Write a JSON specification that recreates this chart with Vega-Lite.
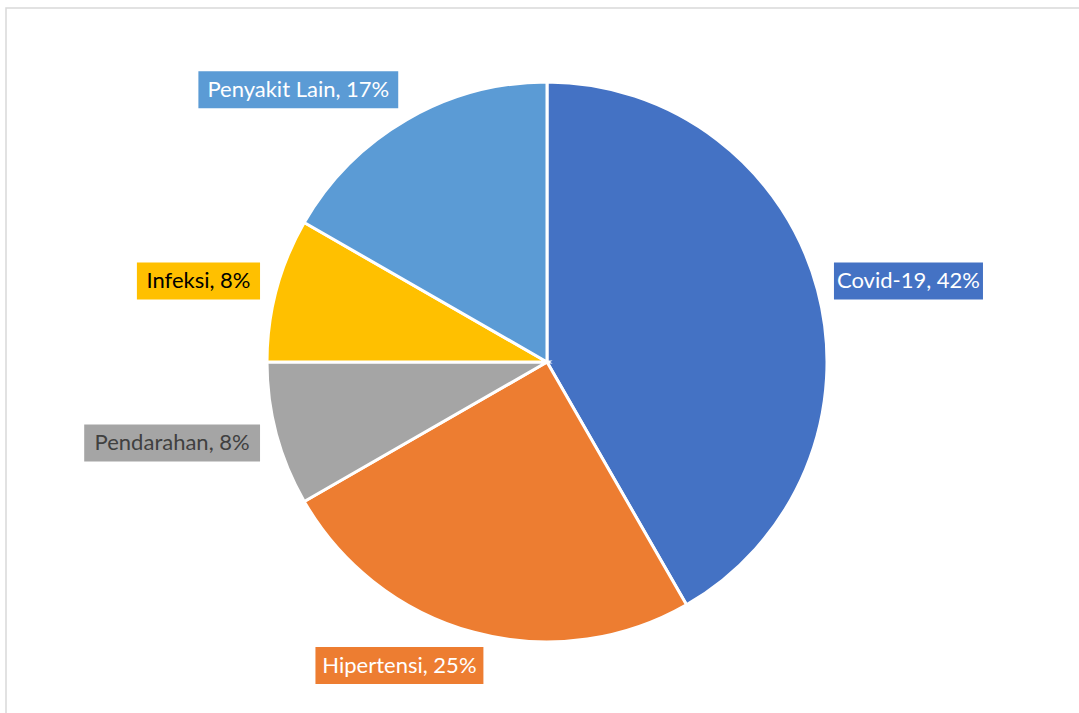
{
  "$schema": "https://vega.github.io/schema/vega-lite/v6.json",
  "width": 1079,
  "height": 713,
  "autosize": {"type": "fit", "contains": "padding"},
  "padding": {"left": 6, "top": 8, "right": -3, "bottom": -3},
  "background": "white",
  "config": {"view": {"stroke": "#d9d9d9", "strokeWidth": 1.5}},
  "data": {
    "values": [
      {"kategori": "Covid-19", "persen": 41.7, "label": "Covid-19, 42%"},
      {"kategori": "Hipertensi", "persen": 25, "label": "Hipertensi, 25%"},
      {"kategori": "Pendarahan", "persen": 8.3, "label": "Pendarahan, 8%"},
      {"kategori": "Infeksi", "persen": 8.3, "label": "Infeksi, 8%"},
      {"kategori": "Penyakit Lain", "persen": 16.7, "label": "Penyakit Lain, 17%"}
    ]
  },
  "transform": [
    {"window": [{"op": "row_number", "as": "urutan"}]},
    {"joinaggregate": [{"op": "sum", "field": "persen", "as": "total"}]},
    {"window": [{"op": "sum", "field": "persen", "as": "kumulatif"}], "sort": [{"field": "urutan"}], "frame": [null, 0]},
    {"calculate": "2 * PI * (datum.kumulatif - datum.persen / 2) / datum.total", "as": "sudut"},
    {"calculate": "sin(datum.sudut)", "as": "ux"},
    {"calculate": "-cos(datum.sudut)", "as": "uy"},
    {"calculate": "length(replace(datum.label, regexp('[^iltfrjI1, -]', 'g'), ''))", "as": "sempit"},
    {"calculate": "12.94 * length(datum.label) - 6.94 * datum.sempit + 15.5", "as": "lebar"},
    {"calculate": "297 * datum.ux + datum.lebar / 2 * clamp(3.2 * datum.ux, -1, 1)", "as": "cx"},
    {"calculate": "(296 + 18.5) * datum.uy", "as": "cy"},
    {"calculate": "datum.cx - datum.lebar / 2", "as": "kiri"},
    {"calculate": "datum.cx + datum.lebar / 2", "as": "kanan"},
    {"calculate": "datum.cy - 18.5", "as": "atas"},
    {"calculate": "datum.cy + 18.5", "as": "bawah"}
  ],
  "layer": [
    {
      "mark": {"type": "arc", "outerRadius": 280, "stroke": "white", "strokeWidth": 3},
      "encoding": {
        "theta": {"field": "persen", "type": "quantitative", "stack": true},
        "order": {"field": "urutan", "type": "quantitative"},
        "x": {"datum": 0, "type": "quantitative", "scale": {"domain": [-541, 535], "nice": false, "zero": false}, "axis": null},
        "y": {"datum": 0, "type": "quantitative", "scale": {"domain": [-354, 354], "reverse": true, "nice": false, "zero": false}, "axis": null},
        "color": {
          "field": "kategori",
          "type": "nominal",
          "scale": {
            "domain": ["Covid-19", "Hipertensi", "Pendarahan", "Infeksi", "Penyakit Lain"],
            "range": ["#4472C4", "#ED7D31", "#A5A5A5", "#FFC000", "#5B9BD5"]
          },
          "legend": null
        }
      }
    },
    {
      "mark": {"type": "rect"},
      "encoding": {
        "x": {"field": "kiri", "type": "quantitative", "scale": {"domain": [-541, 535], "nice": false, "zero": false}, "axis": null},
        "x2": {"field": "kanan"},
        "y": {"field": "atas", "type": "quantitative", "scale": {"domain": [-354, 354], "reverse": true, "nice": false, "zero": false}, "axis": null},
        "y2": {"field": "bawah"},
        "color": {
          "field": "kategori",
          "type": "nominal",
          "scale": {
            "domain": ["Covid-19", "Hipertensi", "Pendarahan", "Infeksi", "Penyakit Lain"],
            "range": ["#4472C4", "#ED7D31", "#A5A5A5", "#FFC000", "#5B9BD5"]
          },
          "legend": null
        }
      }
    },
    {
      "mark": {"type": "text", "align": "center", "baseline": "middle", "font": "Lato", "fontSize": 22},
      "encoding": {
        "x": {"field": "cx", "type": "quantitative", "scale": {"domain": [-541, 535], "nice": false, "zero": false}, "axis": null},
        "y": {"field": "cy", "type": "quantitative", "scale": {"domain": [-354, 354], "reverse": true, "nice": false, "zero": false}, "axis": null},
        "text": {"field": "label", "type": "nominal"},
        "color": {
          "condition": [
            {"test": "datum.kategori === 'Infeksi'", "value": "#000000"},
            {"test": "datum.kategori === 'Pendarahan'", "value": "#404040"}
          ],
          "value": "#ffffff"
        }
      }
    }
  ]
}
